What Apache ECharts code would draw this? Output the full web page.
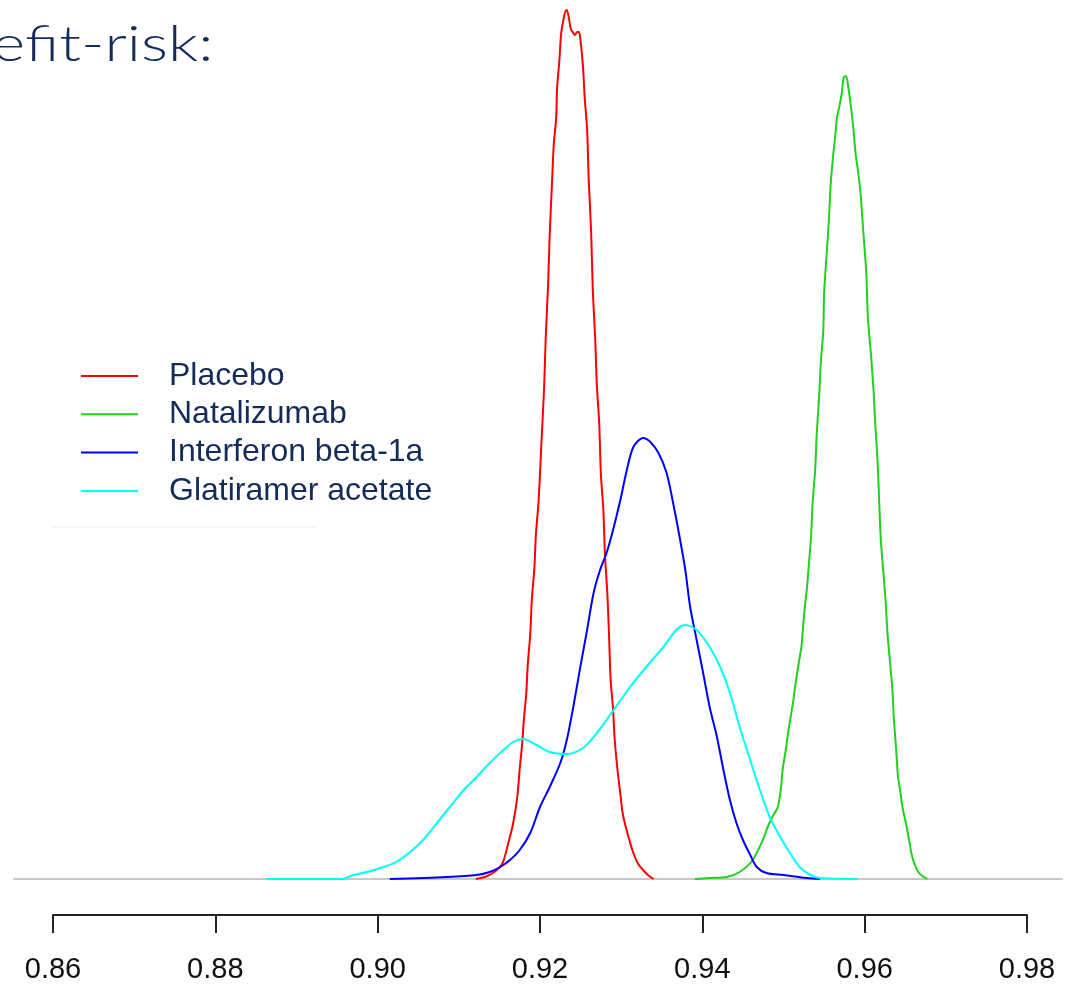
<!DOCTYPE html>
<html>
<head>
<meta charset="utf-8">
<script src="https://cdn.jsdelivr.net/npm/echarts@6/dist/echarts.min.js"></script>
<style>
html,body{margin:0;padding:0;background:#fff;}
#chart{width:1072px;height:984px;}
</style>
</head>
<body>
<div id="chart"></div>
<script>
// ---- data (x = benefit-risk score, y = density) ----
const titleText = 'efit-risk:';
const seriesNames = ['Placebo', 'Natalizumab', 'Interferon beta-1a', 'Glatiramer acetate'];
const seriesColors = ['#ff0000', '#1ed21e', '#0000ff', '#00ffff'];
const tickValues = [0.86, 0.88, 0.90, 0.92, 0.94, 0.96, 0.98];

const placebo = [
  [0.9121,0],[0.9135,0.6],[0.9147,1.8],[0.9154,3.2],[0.9161,7.2],[0.9167,11.2],[0.9172,16.4],
  [0.9175,22],[0.9178,27],[0.9180,31.6],[0.9183,37],[0.9185,43],[0.9188,49],[0.9190,56],
  [0.9193,62],[0.9195,69],[0.9198,75],[0.9200,81],[0.9202,88],[0.9205,98],[0.9207,108],
  [0.9210,119],[0.9212,129],[0.9215,140],[0.9217,147],[0.9220,152.4],[0.9221,158],[0.9224,164],
  [0.9226,169],[0.9229,172],[0.9231,173.4],[0.9233,173.8],[0.9236,171.8],[0.9238,170],
  [0.9241,169.2],[0.9243,168.8],[0.9246,169.4],[0.9248,169.4],[0.9250,167.6],[0.9253,162.4],
  [0.9255,156.4],[0.9258,150],[0.9260,140],[0.9263,129.4],[0.9265,118],[0.9268,108],[0.9270,99],
  [0.9273,91],[0.9275,81],[0.9278,74],[0.9280,65],[0.9283,57],[0.9285,49],[0.9287,40],
  [0.9290,34],[0.9292,28],[0.9295,22.6],[0.9299,17],[0.9302,13],[0.9307,9.6],[0.9315,5.2],
  [0.9321,3],[0.9327,1.8],[0.9333,0.8],[0.9340,0]
];
const natalizumab = [
  [0.9391,0],[0.9409,0.2],[0.9430,0.4],[0.9446,1.4],[0.9462,3.8],[0.9475,8],[0.9481,10.6],
  [0.9487,12.6],[0.9493,14.4],[0.9497,18.4],[0.9499,22],[0.9503,26],[0.9506,29.6],[0.9509,32.6],
  [0.9512,35.6],[0.9515,39.2],[0.9518,42.4],[0.9522,46.4],[0.9524,50.2],[0.9526,54],[0.9529,58.4],
  [0.9531,62.4],[0.9534,68.6],[0.9536,75.6],[0.9539,81.8],[0.9541,89.2],[0.9544,96.8],[0.9546,103.4],
  [0.9549,109.6],[0.9550,117],[0.9553,124.6],[0.9556,132],[0.9558,138.6],[0.9561,144.4],[0.9564,149],
  [0.9566,152.4],[0.9569,154.6],[0.9572,157.4],[0.9574,160.2],[0.9577,160.6],[0.9580,158.2],
  [0.9583,154.6],[0.9586,150.2],[0.9589,144.8],[0.9592,141.4],[0.9595,137],[0.9598,130.2],
  [0.9602,121.2],[0.9604,112.2],[0.9608,104.4],[0.9611,97.6],[0.9613,91.2],[0.9616,83.2],
  [0.9618,75],[0.9620,67.6],[0.9623,61.4],[0.9626,55.2],[0.9628,49.4],[0.9631,43.8],[0.9634,38.2],
  [0.9636,32],[0.9639,25.4],[0.9641,20.6],[0.9644,17.4],[0.9647,14],[0.9651,11],[0.9655,7.6],
  [0.9658,4.8],[0.9662,2.8],[0.9666,1.4],[0.9671,0.6],[0.9677,0]
];
const interferon = [
  [0.9015,0],[0.9085,0.4],[0.9122,0.8],[0.9138,1.4],[0.9151,2.4],[0.9163,3.8],[0.9175,5.8],
  [0.9188,9.2],[0.9200,14.4],[0.9212,18.4],[0.9225,23.2],[0.9233,27.8],[0.9241,34.4],[0.9249,41.8],
  [0.9258,49.8],[0.9266,57.2],[0.9274,61.8],[0.9282,65.2],[0.9290,69.8],[0.9299,75.8],[0.9307,81.8],
  [0.9315,86.4],[0.9327,88.2],[0.9336,87.4],[0.9346,85.2],[0.9356,81.2],[0.9364,75.2],[0.9372,68.4],
  [0.9379,61.8],[0.9385,54.4],[0.9393,47.8],[0.9401,41.2],[0.9409,34.4],[0.9418,28.4],[0.9426,21.8],
  [0.9434,15.8],[0.9442,11.2],[0.9450,7.8],[0.9459,4.8],[0.9467,2.4],[0.9479,1.2],[0.9500,0.8],
  [0.9529,0.2],[0.9545,0]
];
const glatiramer = [
  [0.8863,0],[0.8956,0],[0.8970,0.8],[0.8987,1.4],[0.9007,2.4],[0.9023,3.4],[0.9040,5.4],
  [0.9056,7.8],[0.9073,11.2],[0.9089,14.4],[0.9106,17.8],[0.9122,20.4],[0.9138,23.2],[0.9155,25.8],
  [0.9167,27.4],[0.9179,28],[0.9196,26.8],[0.9212,25.4],[0.9233,25],[0.9253,26.2],[0.9270,29.2],
  [0.9282,31.8],[0.9311,38.4],[0.9331,42.4],[0.9352,46.4],[0.9368,49.8],[0.9379,50.8],[0.9393,49.8],
  [0.9409,46.4],[0.9422,42.4],[0.9434,37.2],[0.9446,30.4],[0.9459,23.8],[0.9471,17.8],[0.9483,12.4],
  [0.9496,8.4],[0.9508,5.2],[0.9520,2.4],[0.9533,0.8],[0.9545,0.2],[0.9592,0]
];
const seriesData = [placebo, natalizumab, interferon, glatiramer];

// ---- chart ----
const chart = echarts.init(document.getElementById('chart'), null, {renderer: 'canvas'});
const textColor = '#142b5c';

const option = {
  animation: false,
  backgroundColor: '#ffffff',
  grid: [
    {left: 14, right: 10, top: 0, bottom: 105},
    {left: 53, right: 45, top: 890, bottom: 69}
  ],
  xAxis: [
    {
      type: 'value', gridIndex: 0, min: 0.855195, max: 0.984312,
      axisLine: {show: true, onZero: false, lineStyle: {color: '#c8c8c8', width: 2}},
      axisTick: {show: false}, axisLabel: {show: false}, splitLine: {show: false}
    },
    {
      type: 'value', gridIndex: 1, min: tickValues[0], max: tickValues[tickValues.length - 1], interval: 0.02,
      axisLine: {show: true, onZero: false, lineStyle: {color: '#222222', width: 2}},
      axisTick: {show: true, inside: false, length: 18, lineStyle: {color: '#222222', width: 2}},
      axisLabel: {
        show: true, margin: 40, fontSize: 29, color: '#111111',
        fontFamily: '"Liberation Sans", Arial, sans-serif',
        formatter: v => v.toFixed(2)
      },
      splitLine: {show: false}
    }
  ],
  yAxis: [
    {type: 'value', gridIndex: 0, min: 0, max: 175.8, show: false},
    {type: 'value', gridIndex: 1, min: 0, max: 1, show: false}
  ],
  legend: {
    orient: 'vertical', left: 81, top: 357, padding: 0, itemGap: 0.3,
    icon: 'rect', itemWidth: 57, itemHeight: 2,
    data: seriesNames,
    textStyle: {
      fontSize: 32, lineHeight: 26, color: textColor,
      fontFamily: '"Liberation Sans", Arial, sans-serif',
      padding: [0, 0, 12, 26]
    }
  },
  graphic: [
    {
      type: 'text', x: -8, y: 20, scaleX: 1.27, scaleY: 1,
      style: {text: titleText, fontSize: 50, fontWeight: 300, fontFamily: 'Lato, "Open Sans", sans-serif',
              fill: textColor, textAlign: 'left', textVerticalAlign: 'top'}
    },
    {
      type: 'line', shape: {x1: 52, y1: 527, x2: 317, y2: 527},
      style: {stroke: '#f0f0f0', lineWidth: 1}
    }
  ],
  series: seriesNames.map((name, i) => ({
    name: name, type: 'line', xAxisIndex: 0, yAxisIndex: 0,
    data: seriesData[i], showSymbol: false, smooth: 0.3,
    color: seriesColors[i],
    lineStyle: {color: seriesColors[i], width: 2},
    emphasis: {disabled: true}
  }))
};
chart.setOption(option);
</script>
</body>
</html>
